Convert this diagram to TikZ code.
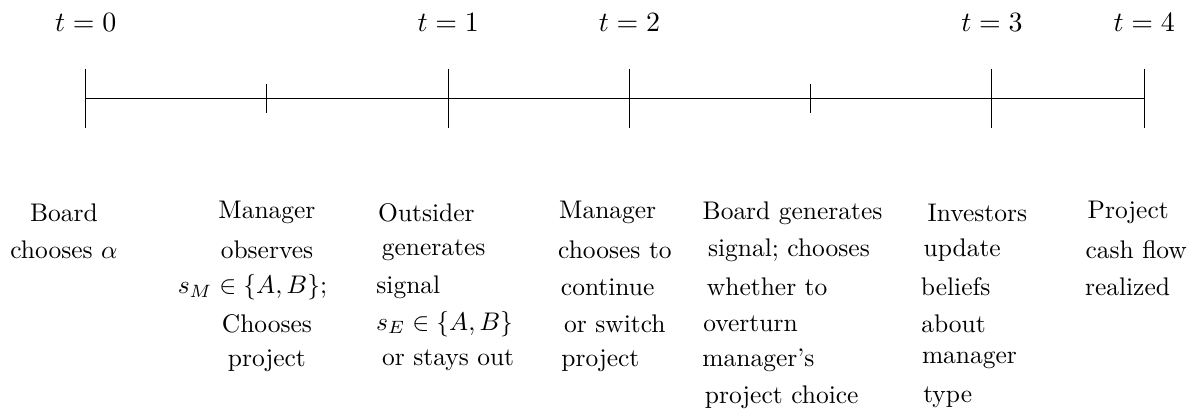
\documentclass[tikz,border=0pt]{standalone}
\usetikzlibrary{positioning}

\begin{document}
\begin{tikzpicture}[
  date/.style={font=\fontsize{11}{13.6}\selectfont},
  event/.style={font=\normalsize}
]
\useasboundingbox (-1.182,-4.313) rectangle (15.232,1.356);

% Time points
\coordinate (t0) at (0,0);
\coordinate (m1) at (2.5,0);
\coordinate (t1) at (5,0);
\coordinate (t2) at (7.5,0);
\coordinate (m2) at (10,0);
\coordinate (t3) at (12.5,0);
\coordinate (t4) at (14.6,0);

% Axis
\draw (t0) -- (t4);

% Ticks
\draw ([yshift=0.41cm]t0) -- ([yshift=-0.41cm]t0);
\draw ([yshift=0.2cm]m1) -- ([yshift=-0.2cm]m1);
\draw ([yshift=0.41cm]t1) -- ([yshift=-0.41cm]t1);
\draw ([yshift=0.41cm]t2) -- ([yshift=-0.41cm]t2);
\draw ([yshift=0.2cm]m2) -- ([yshift=-0.2cm]m2);
\draw ([yshift=0.41cm]t3) -- ([yshift=-0.41cm]t3);
\draw ([yshift=0.41cm]t4) -- ([yshift=-0.41cm]t4);

% Dates
\node[date] (d0) at (0,1.05) {$t=0$};
\node[date] (d1) at (5,1.05) {$t=1$};
\node[date] (d2) at (7.5,1.05) {$t=2$};
\node[date] (d3) at (12.5,1.05) {$t=3$};
\node[date] (d4) at (14.6,1.05) {$t=4$};

% Board
\node[event] (bo1) at (-0.3,-1.58) {Board};
\node[event] (bo2) at (-0.3,-2.09) {chooses $\alpha$};

% Manager observes
\node[event] (mo1) at (2.5,-1.58) {Manager};
\node[event] (mo2) at (2.5,-2.09) {observes};
\node[event] (mo3) at (2.3,-2.6) {$s_M \in \{A,B\}$;};
\node[event] (mo4) at (2.5,-3.11) {Chooses};
\node[event] (mo5) at (2.5,-3.62) {project};

% Outsider
\node[event] (os1) at (4.7,-1.58) {Outsider};
\node[event] (os2) at (4.8,-2.09) {generates};
\node[event] (os3) at (4.45,-2.6) {signal};
\node[event] (os4) at (4.95,-3.11) {$s_E \in \{A,B\}$};
\node[event] (os5) at (5,-3.62) {or stays out};

% Manager continues
\node[event] (mc1) at (7.2,-1.58) {Manager};
\node[event] (mc2) at (7.3,-2.09) {chooses to};
\node[event] (mc3) at (7.2,-2.6) {continue};
\node[event] (mc4) at (7.3,-3.11) {or switch};
\node[event] (mc5) at (7.1,-3.62) {project};

% Board overturns
\node[event] (bg1) at (9.75,-1.58) {Board generates};
\node[event] (bg2) at (9.7,-2.09) {signal; chooses};
\node[event] (bg3) at (9.4,-2.6) {whether to};
\node[event] (bg4) at (9.17,-3.11) {overturn};
\node[event] (bg5) at (9.28,-3.62) {manager's};
\node[event] (bg6) at (9.6,-4.13) {project choice};

% Investors
\node[event] (iv1) at (12.3,-1.58) {Investors};
\node[event] (iv2) at (12.09,-2.09) {update};
\node[event] (iv3) at (12,-2.6) {beliefs};
\node[event] (iv4) at (11.97,-3.11) {about};
\node[event] (iv5) at (12.19,-3.62) {manager};
\node[event] (iv6) at (11.89,-4.13) {type};

% Cash flow
\node[event] (pr1) at (14.38,-1.58) {Project};
\node[event] (pr2) at (14.49,-2.09) {cash flow};
\node[event] (pr3) at (14.37,-2.6) {realized};

\end{tikzpicture}
\end{document}
